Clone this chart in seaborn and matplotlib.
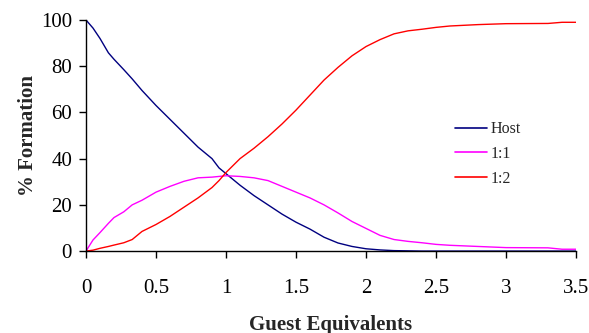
import pandas as pd
import seaborn as sns
import matplotlib.pyplot as plt

# ================= DATA =================
guest_eq = [0, 0.05, 0.1, 0.16, 0.2, 0.27, 0.33, 0.4, 0.5, 0.6, 0.7, 0.8, 0.9, 0.95,
            1.0, 1.1, 1.2, 1.3, 1.4, 1.5, 1.6, 1.7, 1.8, 1.9, 2.0, 2.1, 2.2, 2.3,
            2.4, 2.5, 2.6, 2.8, 3.0, 3.3, 3.4, 3.5]

host = [100, 96.5, 92, 85.8, 83, 78.5, 74.5, 69.5, 63, 57, 51, 45, 40, 36,
        33.5, 28.5, 24, 20, 16, 12.5, 9.5, 6, 3.5, 2, 1, 0.5, 0.2, 0.1,
        0, 0, 0, 0, 0, 0, 0, 0]

complex_11 = [0, 4.8, 8, 12, 14.5, 17, 20, 22, 25.5, 28, 30.2, 31.7, 32, 32.3,
              32.6, 32.3, 31.7, 30.5, 28, 25.5, 23, 20, 16.5, 12.8, 9.8, 6.8, 5, 4.2,
              3.6, 2.9, 2.5, 2, 1.5, 1.4, 0.8, 0.8]

complex_12 = [0, 0.4, 1.2, 2, 2.6, 3.6, 5, 8.5, 11.5, 15, 19, 23, 27.5, 30.5,
              34, 40, 44.5, 49.5, 55, 61, 67.5, 74, 79.5, 84.5, 88.5, 91.5, 94, 95.3,
              96, 96.8, 97.4, 98, 98.4, 98.5, 99, 99]

series_names = ['Host', '1:1', '1:2']
series_colors = ['#000080', '#FF00FF', '#FF0000']

# ================= PLOT =================
def main():
    frames = []
    for name, vals in zip(series_names, [host, complex_11, complex_12]):
        frames.append(pd.DataFrame({'Guest Equivalents': guest_eq,
                                    '% Formation': vals,
                                    'Species': name}))
    df = pd.concat(frames, ignore_index=True)

    sns.set_style("ticks")
    plt.rcParams['font.family'] = ['Liberation Serif', 'DejaVu Serif']

    fig = plt.figure(figsize=(5.89, 3.33), dpi=100)
    ax = fig.add_axes([0.146, 0.246, 0.832, 0.694])

    sns.lineplot(data=df, x='Guest Equivalents', y='% Formation', hue='Species',
                 palette=dict(zip(series_names, series_colors)),
                 linewidth=1.0, ax=ax)

    ax.set_xlim(0, 3.5)
    ax.set_ylim(0, 100)
    ax.set_xticks([0, 0.5, 1, 1.5, 2, 2.5, 3, 3.5])
    ax.set_xticklabels(['0', '0.5', '1', '1.5', '2', '2.5', '3', '3.5'])
    ax.set_yticks([0, 20, 40, 60, 80, 100])

    sns.despine(ax=ax)
    for side in ['left', 'bottom']:
        ax.spines[side].set_linewidth(1.0)
        ax.spines[side].set_color('black')

    ax.tick_params(axis='x', direction='out', length=5, width=1, pad=15,
                   labelsize=15, colors='black')
    ax.tick_params(axis='y', direction='out', length=5, width=1, pad=5,
                   labelsize=15, colors='black')

    ax.set_xlabel('Guest Equivalents', fontsize=15, fontweight='bold', labelpad=12)
    ax.set_ylabel('% Formation', fontsize=15, fontweight='bold', labelpad=2)

    leg = ax.legend(loc='upper left', bbox_to_anchor=(0.74, 0.59), frameon=False,
                    fontsize=11.5, handlelength=2.0, handletextpad=0.25,
                    labelspacing=0.55, borderaxespad=0)
    for line in leg.get_lines():
        line.set_linewidth(1.2)

    fig.savefig('out.png', dpi=100)

if __name__ == "__main__":
    main()
